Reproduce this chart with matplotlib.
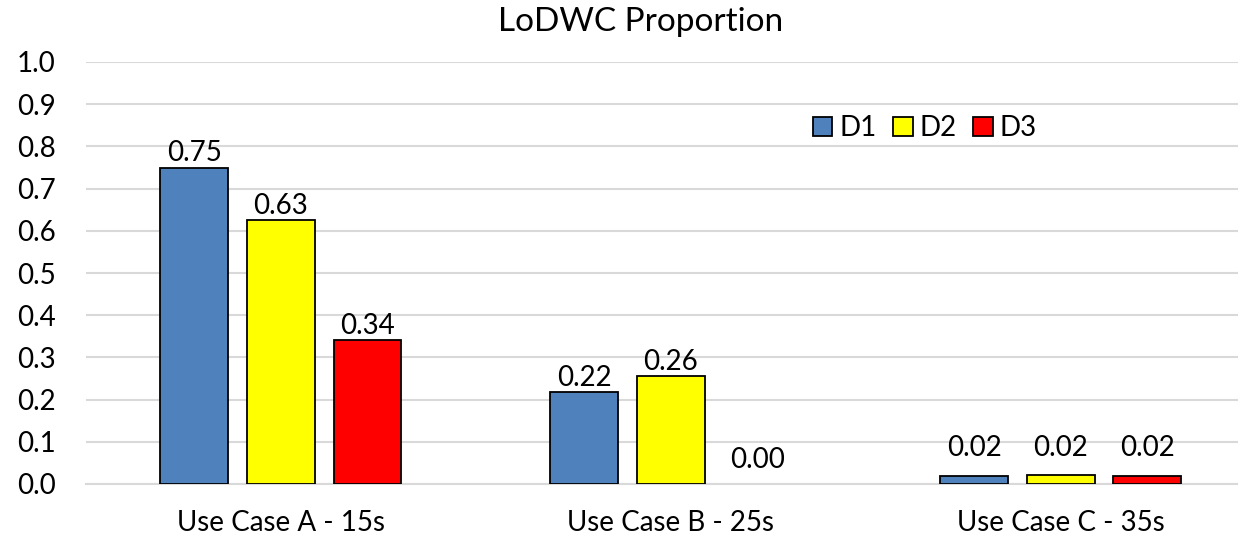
import matplotlib.pyplot as plt
import numpy as np

plt.rcParams['font.family'] = ['Lato', 'DejaVu Sans']

categories = ['Use Case A - 15s', 'Use Case B - 25s', 'Use Case C - 35s']
series = ['D1', 'D2', 'D3']
d1 = [0.75, 0.218, 0.02]
d2 = [0.626, 0.256, 0.021]
d3 = [0.341, 0.0, 0.018]
colors = ['#4f81bd', '#ffff00', '#ff0000']

fig = plt.figure(figsize=(12.38, 5.37), dpi=100)
ax = fig.add_axes([86 / 1238, 1 - 484 / 537, 1 - 86 / 1238, (484 - 62) / 537])

x = np.arange(len(categories))
width = 0.174
step = 0.222
for i, (name, vals) in enumerate(zip(series, [d1, d2, d3])):
    pos = x + (i - 1) * step
    lw = [0 if v == 0 else 1.3 for v in vals]
    bars = ax.bar(pos, vals, width, color=colors[i], edgecolor='black',
                  linewidth=lw, label=name, zorder=3)
    for b, v in zip(bars, vals):
        # small values get their labels lifted off the baseline, like Excel did
        ly = 0.025 if v == 0 else max(v + 0.003, 0.055)
        ax.text(b.get_x() + b.get_width() / 2, ly, f'{v:.2f}',
                ha='center', va='bottom', fontsize=20)

ax.set_ylim(0, 1.0)
ax.set_xlim(-0.5, 2.455)
ticks = np.arange(0, 1.01, 0.1)
ax.set_yticks(ticks)
ax.set_yticklabels([f'{t:.1f}' for t in ticks], fontsize=20)
ax.set_xticks(x)
ax.set_xticklabels(categories, fontsize=20)
ax.tick_params(axis='x', length=0, pad=19)
ax.tick_params(axis='y', length=0, pad=22)
ax.grid(axis='y', color='#d9d9d9', linewidth=1.5, zorder=0)
for s in ['top', 'right', 'left']:
    ax.spines[s].set_visible(False)
ax.spines['bottom'].set_color('#d9d9d9')
ax.spines['bottom'].set_linewidth(1.5)

leg = ax.legend(loc='center', bbox_to_anchor=((925 - 86) / 1152, (484 - 128) / 422),
                ncol=3, frameon=False, fontsize=20, handlelength=0.7, handleheight=0.7,
                handletextpad=0.25, columnspacing=0.6)

fig.text(641 / 1238, 1 - 22 / 537, 'LoDWC Proportion', ha='center', va='center',
         fontsize=24)

fig.savefig('out.png', dpi=100)
